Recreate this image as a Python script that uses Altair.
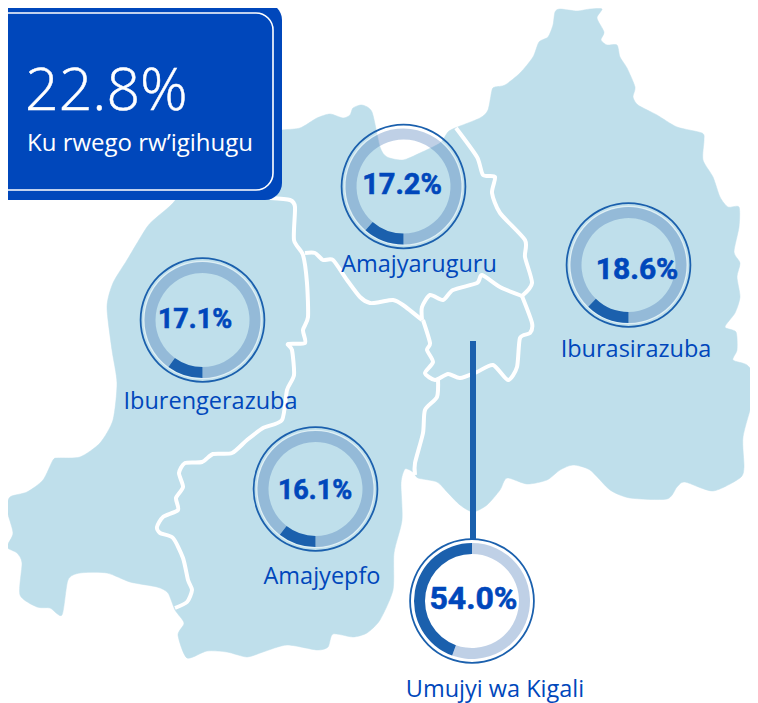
import altair as alt
import pandas as pd

# ---- map geometry (image pixel units) ----
outline = [(282,130),(300,128),(317,118),(330,114),(343,118),(350,115),(353,108),(362,105),(372,112),(380,147),
(387,157),(403,160),(420,153),(440,143),(448,132),(455,128),(480,118),(488,110),(492,90),(495,87),(505,85),(520,73),
(533,57),(539,42),(548,37),(553,25),(555,12),(560,9),(577,11),(590,9),(602,9),(597,18),(604,32),(601,40),(607,45),
(617,45),(620,57),(627,68),(635,87),(633,97),(638,105),(657,115),(677,127),(702,133),(704,140),(703,160),(713,177),
(720,197),(728,207),(739,207),(739,227),(734,252),(740,263),(737,277),(740,297),(735,313),(725,327),(736,332),(737,350),
(733,360),(747,365),(758,380),(753,400),(743,437),(744,467),(740,478),(713,491),(685,482),(677,487),(667,499),(630,498),
(610,490),(590,470),(573,465),(560,470),(547,480),(527,484),(507,478),(500,490),(487,505),(473,512),(460,505),(448,493),
(437,482),(418,478),(413,472),(405,469),(401,483),(402,520),(394,553),(393,590),(380,620),(367,633),(353,637),(333,634),
(328,647),(317,650),(287,645),(263,652),(247,657),(227,652),(207,651),(187,658),(178,635),(184,623),(175,610),(168,593),
(157,587),(130,582),(107,573),(80,573),(68,580),(62,615),(50,608),(37,607),(20,595),(22,563),(17,553),(7,547),(13,533),
(7,510),(10,497),(27,492),(43,480),(53,460),(58,458),(80,457),(100,443),(113,420),(117,383),(112,350),(107,307),(113,283),
(127,260),(147,227),(157,217),(173,203),(200,170),(240,135)]

border_west = [(270,198),(290,200),(295,207),(294,240),(303,255),(307,283),(308,317),(303,330),(305,343),(288,344),(292,350),
(294,375),(287,390),(282,420),(263,428),(247,440),(232,453),(213,454),(202,462),(185,463),(179,473),(183,487),(176,498),
(178,510),(163,517),(157,527),(160,533),(173,538),(183,558),(188,580),(192,590),(187,602),(175,608)]
border_north = [(305,253),(315,253),(323,260),(333,260),(347,280),(360,297),(370,303),(380,302),(393,300),(403,305),(422,320)]
border_kigali_top = [(422,320),(422,307),(430,295),(443,300),(453,290),(477,283),(482,275),(500,287),(522,296)]
border_east = [(456,128),(477,157),(483,175),(495,177),(492,193),(500,213),(525,240),(525,257),(532,283),(522,296)]
border_kigali_ring = [(522,296),(532,323),(530,333),(520,338),(517,367),(508,380),(493,365),(477,372),(460,378),(448,374),
(435,380),(425,373),(433,362),(427,350),(430,343),(423,320)]
border_south = [(438,378),(437,397),(425,410),(423,433),(415,463),(415,475)]
borders = [border_west, border_north, border_kigali_top, border_east, border_kigali_ring, border_south]

# ---- provinces ----
names = ["Amajyaruguru", "Iburasirazuba", "Iburengerazuba", "Amajyepfo", "Umujyi wa Kigali"]
values = [17.2, 18.6, 17.1, 16.1, 54.0]
arc_sweep = [41, 44, 36, 38, 160]   # dark arc as drawn in the picture, degrees
centre_x = [403.5, 628.5, 202.5, 315.5, 472]
centre_y = [186.5, 265, 320, 489, 601]
value_x = [402, 637, 195, 315, 473.5]
value_y = [185, 270, 320, 491, 599]
label_x = [419, 636, 210.5, 322, 495]
label_y = [265, 350, 402, 577, 690]
value_font = [29, 30, 27, 27, 32]

BLUE = "#0047bb"
DARK = "#1b60ad"
MAP = "#bfdfeb"

X = alt.X("x:Q", axis=None, scale=alt.Scale(domain=[8, 750], range=[0, 742]))
Y = alt.Y("y:Q", axis=None, scale=alt.Scale(domain=[8, 703], range=[0, 695]))
THETA = alt.Scale(domain=[0, 360], range=[0, 6.283185307])

map_df = pd.DataFrame({"x": [p[0] for p in outline], "y": [p[1] for p in outline], "i": range(len(outline))})
border_df = pd.DataFrame(
    [{"x": p[0], "y": p[1], "i": i, "b": b} for b, line in enumerate(borders) for i, p in enumerate(line)]
)

land = alt.Chart(map_df).mark_line(interpolate="cardinal-closed", tension=0.3, fill=MAP, stroke=MAP, strokeWidth=0.5).encode(
    x=X, y=Y, order="i:Q")
white = alt.Chart(border_df).mark_line(interpolate="cardinal", tension=0.3, stroke="white", strokeWidth=4).encode(
    x=X, y=Y, detail="b:N", order="i:Q")

box_df = pd.DataFrame({"x": [-30], "x2": [282], "y": [3], "y2": [200]})
inner_df = pd.DataFrame({"x": [-30], "x2": [273], "y": [13], "y2": [190]})
box = alt.Chart(box_df).mark_rect(fill=BLUE, cornerRadius=17).encode(x=X, x2="x2:Q", y=Y, y2="y2:Q")
inner = alt.Chart(inner_df).mark_rect(filled=False, stroke="white", strokeWidth=1.6, cornerRadius=17).encode(
    x=X, x2="x2:Q", y=Y, y2="y2:Q")
big_df = pd.DataFrame({"x": [25], "y": [110], "t": ["22.8%"]})
small_df = pd.DataFrame({"x": [27], "y": [151], "t": ["Ku rwego rw\u2019igihugu"]})
big = alt.Chart(big_df).mark_text(
    font="Open Sans", fontSize=59, fontWeight=300, color="white", stroke="white", strokeWidth=0.5,
    align="left", baseline="alphabetic").encode(x=X, y=Y, text="t:N")
small = alt.Chart(small_df).mark_text(
    font="Open Sans", fontSize=24, color="white", align="left", baseline="alphabetic").encode(
    x=X, y=Y, text="t:N")

conn_df = pd.DataFrame({"x": [473], "y": [341], "y2": [540]})
conn = alt.Chart(conn_df).mark_rule(color=DARK, strokeWidth=6).encode(x=X, y=Y, y2="y2:Q")

rows = []
for n, sweep, cx, cy in zip(names, arc_sweep, centre_x, centre_y):
    if n == "Umujyi wa Kigali":
        dark_a, dark_b = 360 - sweep, 360
        rest_a, rest_b = 0, 360 - sweep
    else:
        dark_a, dark_b = 180, 180 + sweep
        rest_a, rest_b = 180 + sweep, 540
    rows.append(dict(n=n, x=cx, y=cy, da=dark_a, db=dark_b, ra=rest_a, rb=rest_b, full_a=0, full_b=360))
donut_df = pd.DataFrame(rows)

outer = alt.Chart(donut_df).mark_arc(radius=62.8, radius2=61, color=DARK).encode(
    x=X, y=Y, theta=alt.Theta("full_a:Q", scale=THETA, stack=None), theta2="full_b:Q")
halo = alt.Chart(donut_df).mark_arc(radius=59.3, radius2=58, color="white", opacity=0.5).encode(
    x=X, y=Y, theta=alt.Theta("full_a:Q", scale=THETA, stack=None), theta2="full_b:Q")
rest = alt.Chart(donut_df).mark_arc(radius=58, radius2=47, color="#3d71b3", opacity=0.33).encode(
    x=X, y=Y, theta=alt.Theta("ra:Q", scale=THETA, stack=None), theta2="rb:Q")
dark = alt.Chart(donut_df).mark_arc(radius=58, radius2=47, color=DARK).encode(
    x=X, y=Y, theta=alt.Theta("da:Q", scale=THETA, stack=None), theta2="db:Q")

val_df = pd.DataFrame({"x": value_x, "y": value_y, "t": [f"{v:.1f}%" for v in values], "s": value_font})
val_text = alt.Chart(val_df).mark_text(font="Roboto", fontWeight="bold", color=BLUE, stroke=BLUE, strokeWidth=0.6,
                                       align="center", baseline="middle").encode(
    x=X, y=Y, text="t:N", size=alt.Size("s:Q", scale=None, legend=None))
lab_df = pd.DataFrame({"x": label_x, "y": label_y, "t": names})
lab_text = alt.Chart(lab_df).mark_text(font="Open Sans", fontSize=23.5, color=BLUE, align="center", baseline="middle").encode(
    x=X, y=Y, text="t:N")

chart = alt.layer(land, white, conn, outer, halo, rest, dark, val_text, lab_text, box, inner, big, small).resolve_scale(
    theta="independent"
).properties(width=742, height=695, padding=0, autosize=alt.AutoSizeParams(type="none"), background="white"
).configure_view(stroke=None)

chart.save("out.html", embed_options={"renderer": "svg", "actions": False})
